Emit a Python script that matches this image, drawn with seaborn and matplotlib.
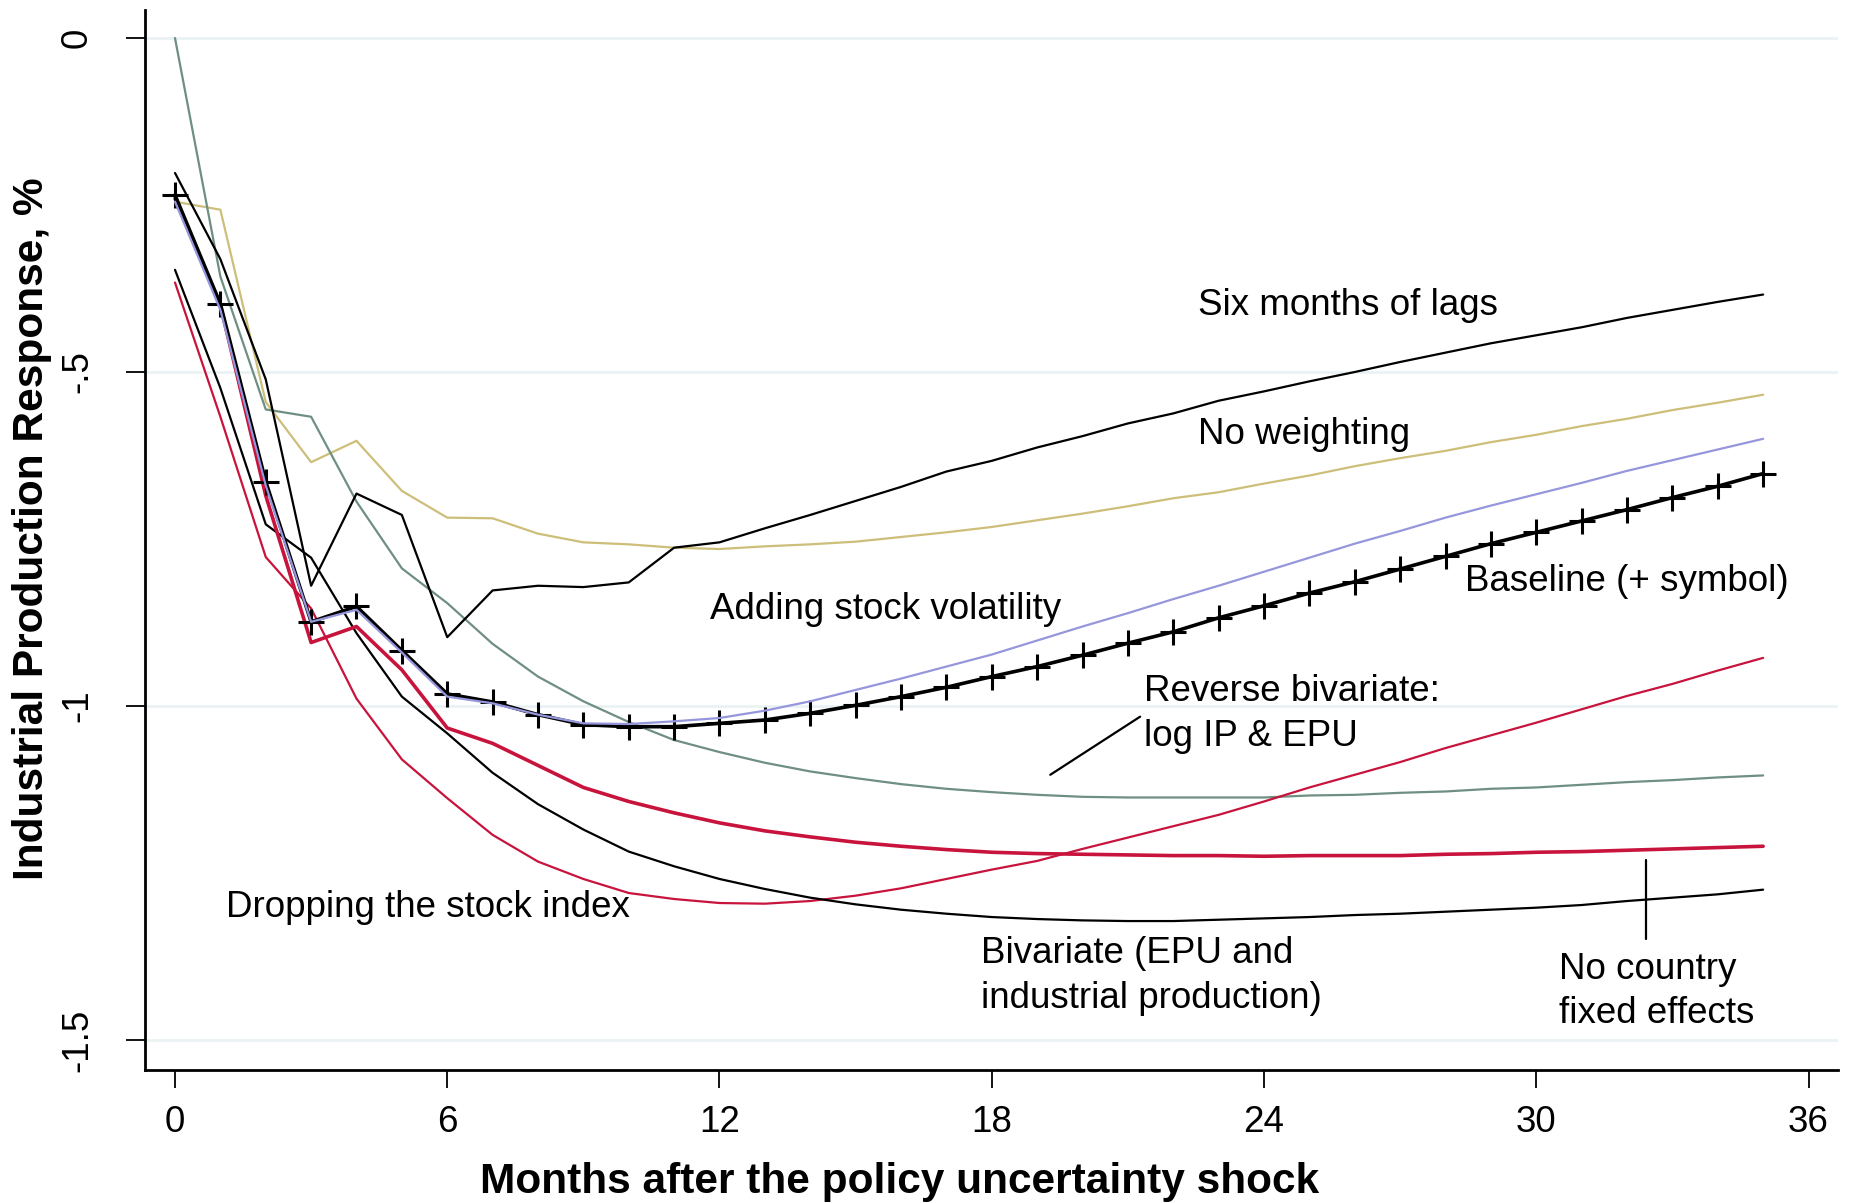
import numpy as np
import pandas as pd
import seaborn as sns
import matplotlib.pyplot as plt

# Impulse responses of industrial production, months 0-35
months = list(range(36))

baseline = [-0.235, -0.398, -0.664, -0.874, -0.851, -0.917, -0.982, -0.994, -1.013, -1.028,
            -1.031, -1.031, -1.026, -1.021, -1.011, -0.999, -0.986, -0.972, -0.956, -0.941,
            -0.924, -0.906, -0.889, -0.868, -0.850, -0.831, -0.814, -0.795, -0.776, -0.757,
            -0.740, -0.723, -0.706, -0.688, -0.671, -0.652]
six_lags = [-0.202, -0.331, -0.511, -0.820, -0.682, -0.714, -0.897, -0.827, -0.820, -0.822,
            -0.815, -0.763, -0.755, -0.734, -0.714, -0.693, -0.672, -0.649, -0.633, -0.613,
            -0.596, -0.577, -0.562, -0.543, -0.529, -0.514, -0.500, -0.485, -0.471, -0.457,
            -0.445, -0.433, -0.419, -0.407, -0.395, -0.384]
no_weighting = [-0.245, -0.257, -0.545, -0.635, -0.603, -0.678, -0.718, -0.719, -0.742, -0.755,
                -0.758, -0.763, -0.765, -0.761, -0.758, -0.754, -0.747, -0.740, -0.732, -0.722,
                -0.712, -0.701, -0.689, -0.680, -0.667, -0.655, -0.641, -0.629, -0.618, -0.605,
                -0.594, -0.581, -0.570, -0.557, -0.546, -0.534]
stock_vol = [-0.245, -0.407, -0.670, -0.874, -0.856, -0.920, -0.986, -0.996, -1.013, -1.026,
             -1.027, -1.023, -1.018, -1.007, -0.993, -0.976, -0.959, -0.941, -0.923, -0.902,
             -0.881, -0.861, -0.840, -0.820, -0.799, -0.778, -0.757, -0.738, -0.718, -0.700,
             -0.683, -0.666, -0.648, -0.632, -0.616, -0.600]
reverse_biv = [0.0, -0.357, -0.556, -0.567, -0.694, -0.794, -0.846, -0.907, -0.956, -0.993,
               -1.024, -1.051, -1.069, -1.085, -1.098, -1.108, -1.117, -1.124, -1.129, -1.133,
               -1.136, -1.137, -1.137, -1.137, -1.137, -1.134, -1.133, -1.130, -1.128, -1.124,
               -1.122, -1.118, -1.114, -1.111, -1.107, -1.104]
no_country_fe = [-0.240, -0.400, -0.685, -0.905, -0.881, -0.946, -1.033, -1.056, -1.089, -1.122,
                 -1.143, -1.160, -1.175, -1.187, -1.196, -1.204, -1.210, -1.215, -1.219, -1.221,
                 -1.222, -1.223, -1.224, -1.224, -1.225, -1.224, -1.224, -1.224, -1.222, -1.221,
                 -1.219, -1.218, -1.216, -1.214, -1.212, -1.210]
drop_stock = [-0.366, -0.567, -0.777, -0.854, -0.989, -1.080, -1.138, -1.193, -1.233, -1.259,
              -1.280, -1.289, -1.295, -1.296, -1.292, -1.284, -1.273, -1.259, -1.245, -1.232,
              -1.214, -1.197, -1.180, -1.163, -1.143, -1.122, -1.103, -1.084, -1.063, -1.044,
              -1.025, -1.005, -0.985, -0.967, -0.947, -0.928]
bivariate = [-0.347, -0.524, -0.728, -0.778, -0.891, -0.986, -1.041, -1.100, -1.147, -1.185,
             -1.218, -1.240, -1.259, -1.274, -1.287, -1.297, -1.305, -1.311, -1.316, -1.319,
             -1.321, -1.322, -1.322, -1.320, -1.318, -1.316, -1.313, -1.311, -1.308, -1.305,
             -1.302, -1.298, -1.292, -1.287, -1.282, -1.275]

x_ticks = [0, 6, 12, 18, 24, 30, 36]
y_ticks = [0, -0.5, -1, -1.5]
y_tick_labels = ["0", "-.5", "-1", "-1.5"]

sns.set_style("white")
plt.rcParams["font.family"] = ["Liberation Sans", "DejaVu Sans"]
plt.rcParams["text.color"] = "black"
plt.rcParams["axes.labelcolor"] = "black"
plt.rcParams["xtick.color"] = "black"
plt.rcParams["ytick.color"] = "black"

fig = plt.figure(figsize=(18.53, 12.03), dpi=100)
ax = fig.add_axes([145 / 1853, 1 - 1070 / 1203, (1838 - 145) / 1853, (1070 - 10) / 1203])

for y in y_ticks:
    ax.axhline(y, color="#EAF2F3", lw=2, zorder=0)

tan = "#CDBE7A"
green = "#6F8F82"
lav = "#9696DC"
red = "#C8143C"

sns.lineplot(x=months, y=no_weighting, color=tan, lw=1.6, ax=ax)
sns.lineplot(x=months, y=reverse_biv, color=green, lw=1.6, ax=ax)
sns.lineplot(x=months, y=six_lags, color="black", lw=1.6, ax=ax)
sns.lineplot(x=months, y=drop_stock, color=red, lw=1.6, ax=ax)
sns.lineplot(x=months, y=bivariate, color="black", lw=1.6, ax=ax)
sns.lineplot(x=months, y=no_country_fe, color=red, lw=2.6, ax=ax)
sns.lineplot(x=months, y=baseline, color="black", lw=2.6, marker="+",
             markersize=19, markeredgewidth=2.2, markeredgecolor="black", ax=ax)
sns.lineplot(x=months, y=stock_vol, color=lav, lw=1.6, ax=ax)

fs = 26.5
ax.text(22.55, -0.400, "Six months of lags", fontsize=fs, va="center")
ax.text(22.55, -0.594, "No weighting", fontsize=fs, va="center")
ax.text(11.8, -0.856, "Adding stock volatility", fontsize=fs, va="center")
ax.text(28.44, -0.813, "Baseline (+ symbol)", fontsize=fs, va="center")
ax.text(21.36, -0.978, "Reverse bivariate:", fontsize=fs, va="center")
ax.text(21.36, -1.045, "log IP & EPU", fontsize=fs, va="center")
ax.plot([21.27, 19.29], [-1.016, -1.103], color="black", lw=1.6)
ax.text(1.12, -1.302, "Dropping the stock index", fontsize=fs, va="center")
ax.text(17.76, -1.370, "Bivariate (EPU and", fontsize=fs, va="center")
ax.text(17.76, -1.438, "industrial production)", fontsize=fs, va="center")
ax.text(30.5, -1.394, "No country", fontsize=fs, va="center")
ax.text(30.5, -1.460, "fixed effects", fontsize=fs, va="center")
ax.plot([32.42, 32.42], [-1.231, -1.349], color="black", lw=1.6)

ax.set_xlim(-0.661, 36.65)
ax.set_ylim(-1.545, 0.042)
ax.set_xticks(x_ticks)
ax.set_xticklabels([str(t) for t in x_ticks], fontsize=fs)
ax.set_yticks(y_ticks)
ax.set_yticklabels(y_tick_labels, fontsize=fs, rotation=90, va="center")
ax.tick_params(axis="x", length=13, width=1.3, pad=12, color="black", labelcolor="black", bottom=True)
ax.tick_params(axis="y", length=14, width=1.3, pad=22, color="black", labelcolor="black", left=True)

for side in ["top", "right"]:
    ax.spines[side].set_visible(False)
for side in ["left", "bottom"]:
    ax.spines[side].set_color("black")
    ax.spines[side].set_linewidth(2)

ax.set_xlabel("Months after the policy uncertainty shock", fontsize=30.5, fontweight="bold", color="black")
ax.set_ylabel("Industrial Production Response, %", fontsize=30.5, fontweight="bold", color="black")
ax.xaxis.label.set_va("center")
ax.yaxis.label.set_va("center")
ax.xaxis.set_label_coords((900 - 145) / 1693, (1070 - 1182) / 1060)
ax.yaxis.set_label_coords((32 - 145) / 1693, (1070 - 529) / 1060)

fig.savefig("out.png", dpi=100)
